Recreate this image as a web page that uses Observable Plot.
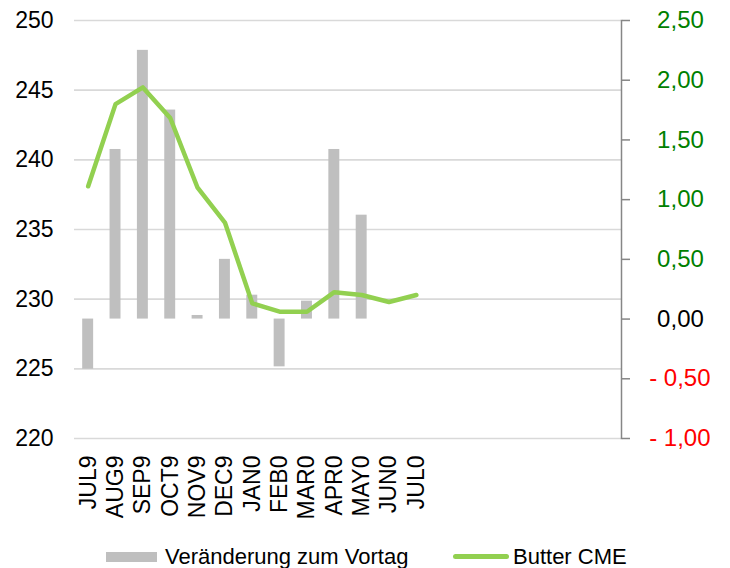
<!DOCTYPE html>
<html>
<head>
<meta charset="utf-8">
<script src="https://cdn.jsdelivr.net/npm/d3@7"></script>
<script src="https://cdn.jsdelivr.net/npm/@observablehq/plot@0.6"></script>
<style>
  html, body { margin: 0; padding: 0; background: #fff; }
  body { font-family: "Liberation Sans", Arial, sans-serif; width: 730px; }
  #legend { position: relative; width: 730px; height: 38px; font-size: 22px; color: #000; }
  #legend .sw { position: absolute; }
  #legend .lb { position: absolute; line-height: 22px; white-space: nowrap; }
</style>
</head>
<body>
<div id="chart"></div>
<div id="legend"></div>
<script>
// ---- data ----
const months = ["JUL9","AUG9","SEP9","OCT9","NOV9","DEC9","JAN0","FEB0","MAR0","APR0","MAY0","JUN0","JUL0"];
const change = [-0.42, 1.42, 2.25, 1.75, 0.03, 0.50, 0.20, -0.40, 0.15, 1.42, 0.87, null, null]; // right axis
const butter = [238.1, 244.0, 245.2, 243.0, 238.0, 235.5, 229.7, 229.1, 229.1, 230.5, 230.3, 229.8, 230.3]; // left axis
const emptySlotCount = 7;
const leftTicks = [220, 225, 230, 235, 240, 245, 250];
const rightTicks = [-1, -0.5, 0, 0.5, 1, 1.5, 2, 2.5];
const seriesNames = ["Veränderung zum Vortag", "Butter CME"];

const barColor = "#BFBFBF";
const lineColor = "#92D050";

// map right axis (-1..2.5) onto left axis (220..250)
const leftDomain = [220, 250];
const rightDomain = [-1, 2.5];
const toLeft = v => leftDomain[0] + (v - rightDomain[0]) * (leftDomain[1] - leftDomain[0]) / (rightDomain[1] - rightDomain[0]);
const zeroLeft = toLeft(0);

const blanks = d3.range(emptySlotCount).map(i => `_blank${i}`);
const domain = months.concat(blanks);

const bars = months.map((m, i) => ({m, v: change[i]})).filter(d => d.v != null);
const line = months.map((m, i) => ({m, v: butter[i]}));

const fmtRight = v => {
  const s = Math.abs(v).toFixed(2).replace(".", ",");
  return v < 0 ? "- " + s : s + "\u00a0";
};
const colRight = v => v > 0 ? "#008000" : v < 0 ? "#FF0000" : "#000000";

const chart = Plot.plot({
  width: 730,
  height: 530,
  marginTop: 20,
  marginLeft: 74,
  marginRight: 109,
  marginBottom: 92,
  style: {fontFamily: "'Liberation Sans', Arial, sans-serif", fontSize: "23px", color: "#000", background: "#fff"},
  x: {domain, paddingInner: 0.6, paddingOuter: 0.3, round: false, label: null},
  y: {domain: leftDomain, label: null},
  marks: [
    Plot.gridY(leftTicks, {stroke: "#D9D9D9", strokeOpacity: 1, strokeWidth: 1.6}),
    Plot.rectY(bars, {x: "m", y1: zeroLeft, y2: d => toLeft(d.v), fill: barColor}),
    Plot.line(line, {x: "m", y: "v", stroke: lineColor, strokeWidth: 4.5, strokeLinejoin: "round", strokeLinecap: "round"}),
    Plot.axisY({ticks: leftTicks, anchor: "left", tickSize: 0, tickPadding: 21, fontSize: 23, fill: "#000", label: null}),
    Plot.axisX({anchor: "bottom", tickSize: 0, tickPadding: 17, tickRotate: -90, fontSize: 23, fill: "#000", label: null,
      tickFormat: d => d.startsWith("_blank") ? "" : d}),
    Plot.frame({anchor: "right", stroke: "#868686", strokeWidth: 1.5}),
    Plot.axisY(rightTicks.map(toLeft), {anchor: "right", tickSize: 8, stroke: "#868686", strokeWidth: 1.5, tickFormat: () => "", label: null}),
    Plot.text(rightTicks, {y: d => toLeft(d), frameAnchor: "right", dx: 89, textAnchor: "end", text: fmtRight, fill: colRight, fontSize: 24})
  ]
});
document.getElementById("chart").appendChild(chart);

// ---- legend ----
const legend = document.getElementById("legend");
legend.innerHTML = `
  <div class="sw" style="left:106px; top:22px; width:51px; height:10px; background:${barColor};"></div>
  <div class="lb" style="left:165px; top:16px;">${seriesNames[0]}</div>
  <div class="sw" style="left:453px; top:24px; width:56px; height:5px; border-radius:3px; background:${lineColor};"></div>
  <div class="lb" style="left:513px; top:16px;">${seriesNames[1]}</div>
`;
</script>
</body>
</html>
